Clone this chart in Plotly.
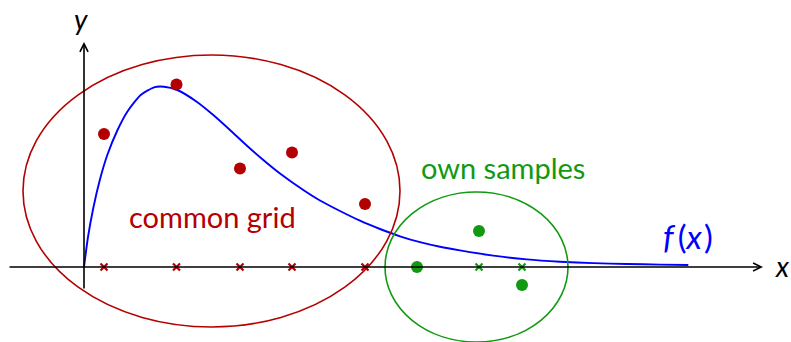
import plotly.graph_objects as go

# Data units: origin of the drawn axes at (0, 0)
curve_x = [0.0, 0.08, 0.186, 0.32, 0.466, 0.666, 0.866, 1.134, 1.40, 1.60, 1.866, 2.254, 2.586,
           2.92, 3.254, 3.586, 3.92, 4.386, 4.72, 5.12, 5.52, 5.92, 6.32, 6.72, 7.12, 7.52,
           8.186, 8.854, 9.52, 10.186, 10.854, 11.52, 12.086]
curve_y = [0.0, 0.60, 1.18, 1.754, 2.24, 2.73, 3.106, 3.44, 3.594, 3.606, 3.54, 3.306, 3.04,
           2.74, 2.43, 2.14, 1.87, 1.54, 1.33, 1.12, 0.926, 0.76, 0.614, 0.496, 0.404, 0.332,
           0.228, 0.152, 0.106, 0.078, 0.06, 0.048, 0.04]

grid_x = [0.40, 1.85, 3.12, 4.16, 5.62]
grid_y = [2.66, 3.65, 1.97, 2.29, 1.26]

own_x = [6.66, 7.90, 8.76]
own_y = [0.0, 0.72, -0.36]
own_marks_x = [7.90, 8.76]

red_ellipse = dict(cx=2.55, cy=1.52, rx=3.77, ry=2.72)
green_ellipse = dict(cx=7.85, cy=0.0, rx=1.83, ry=1.5)

RED = "#b30000"
GREEN = "#119a11"
BLUE = "#0000ff"
FONT = "Lato"

fig = go.Figure()

fig.add_trace(go.Scatter(x=curve_x, y=curve_y, mode="lines",
                         line=dict(color=BLUE, width=1.9, shape="spline", smoothing=0.6),
                         hoverinfo="skip"))
fig.add_trace(go.Scatter(x=grid_x, y=[0] * len(grid_x), mode="markers",
                         marker=dict(symbol="x-thin", size=7, line=dict(color=RED, width=2.2)),
                         hoverinfo="skip"))
fig.add_trace(go.Scatter(x=grid_x, y=grid_y, mode="markers",
                         marker=dict(color=RED, size=12), hoverinfo="skip"))
fig.add_trace(go.Scatter(x=own_marks_x, y=[0] * len(own_marks_x), mode="markers",
                         marker=dict(symbol="x-thin", size=7, line=dict(color=GREEN, width=2.2)),
                         hoverinfo="skip"))
fig.add_trace(go.Scatter(x=own_x, y=own_y, mode="markers",
                         marker=dict(color=GREEN, size=12), hoverinfo="skip"))

for e, col in ((red_ellipse, RED), (green_ellipse, GREEN)):
    fig.add_shape(type="circle", xref="x", yref="y",
                  x0=e["cx"] - e["rx"], x1=e["cx"] + e["rx"],
                  y0=e["cy"] - e["ry"], y1=e["cy"] + e["ry"],
                  line=dict(color=col, width=1.6), layer="above")

# axes with arrows
fig.add_annotation(x=13.58, y=0, ax=-1.52, ay=0, xref="x", yref="y", axref="x", ayref="y",
                   showarrow=True, arrowhead=5, arrowsize=1, arrowwidth=1.6,
                   arrowcolor="black", text="")
fig.add_annotation(x=0, y=4.5, ax=0, ay=-0.46, xref="x", yref="y", axref="x", ayref="y",
                   showarrow=True, arrowhead=5, arrowsize=1, arrowwidth=1.6,
                   arrowcolor="black", text="")

fig.add_annotation(x=13.96, y=0.02, text="<i>x</i>", showarrow=False,
                   font=dict(family=FONT, size=28, color="black"))
fig.add_annotation(x=-0.06, y=4.96, text="<i>y</i>", showarrow=False,
                   font=dict(family=FONT, size=28, color="black"))
fig.add_annotation(x=2.56, y=1.02, text="common grid", showarrow=False,
                   font=dict(family=FONT, size=29, color=RED))
fig.add_annotation(x=8.38, y=2.0, text="own samples", showarrow=False,
                   font=dict(family=FONT, size=29, color=GREEN))
fig.add_annotation(x=12.08, y=0.62, text="<i>f</i>\u2009(<i>x</i>\u200a)", showarrow=False,
                   font=dict(family=FONT, size=33, color=BLUE))

fig.update_layout(
    width=791, height=342,
    margin=dict(l=0, r=0, t=0, b=0),
    paper_bgcolor="white", plot_bgcolor="white",
    showlegend=False,
    xaxis=dict(range=[-1.68, 14.14], visible=False, fixedrange=True),
    yaxis=dict(range=[-1.5, 5.34], visible=False, fixedrange=True),
)

fig.write_html("out.html", config={"displayModeBar": False},
               post_script="document.body.style.margin='0px';")
